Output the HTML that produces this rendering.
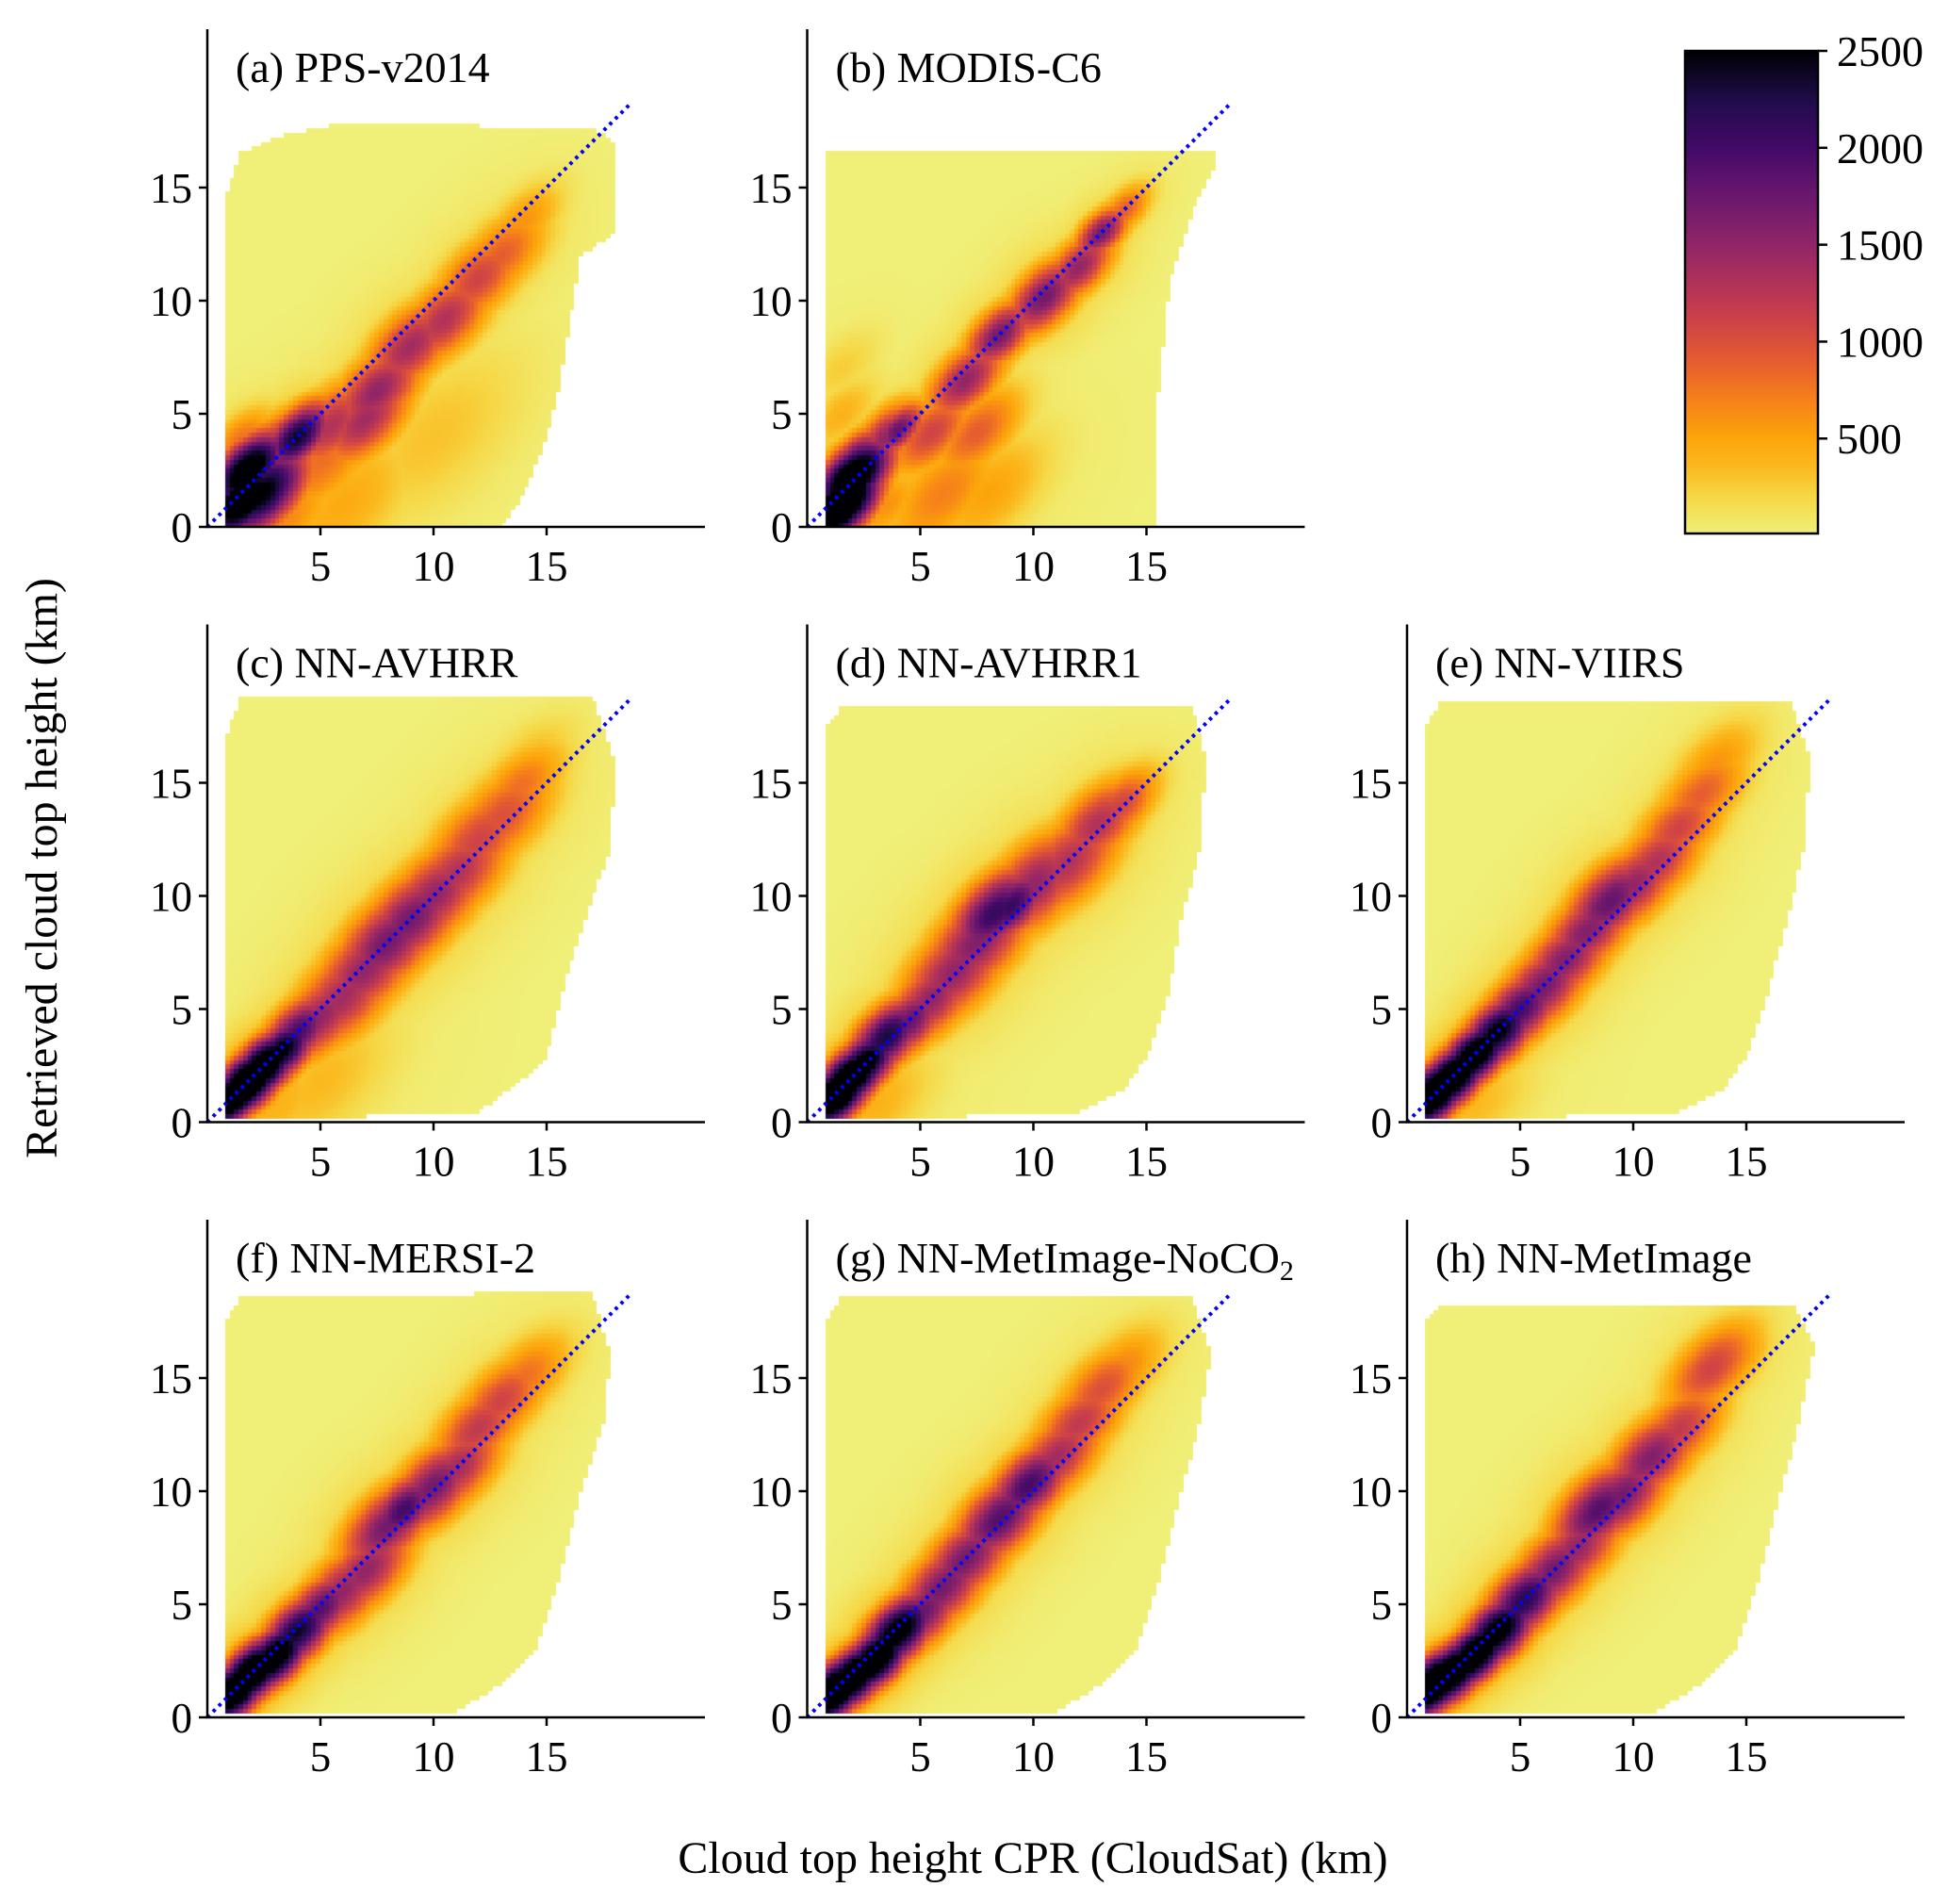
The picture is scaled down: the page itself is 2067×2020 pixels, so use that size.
<!DOCTYPE html>
<html><head><meta charset="utf-8">
<style>
html,body{margin:0;padding:0;background:#fff;}
#root{position:relative;width:2067px;height:2020px;overflow:hidden;font-family:"Liberation Serif",serif;}
canvas{position:absolute;}
svg{position:absolute;left:0;top:0;}
</style></head>
<body>
<div id="root">
<svg id="svg" width="2067" height="2020"></svg>
</div>
<script>
// ---- data (km) ----
const panelTitles = ["(a) PPS-v2014","(b) MODIS-C6","(c) NN-AVHRR","(d) NN-AVHRR1","(e) NN-VIIRS","(f) NN-MERSI-2","(g) NN-MetImage-NoCO","(h) NN-MetImage"];
const xTicks = [5,10,15];
const yTicks = [0,5,10,15];
const cbTicks = [500,1000,1500,2000,2500];
const cbMin = 10, cbMax = 2500;
const diagEnd = 18.7;

// envelope outlines [x,y]
const envA = [[0.8,0],[0.8,14.5],[1.5,16.5],[3,17.2],[6,17.8],[10,17.8],[14,17.6],[17,17.7],[18,17],[18,13],[16.5,12],[16,9],[15.5,6],[15,4],[14,1.5],[13,0]];
const envB = [[0.8,0],[0.8,16.5],[18,16.6],[18,16],[17,14],[16,11],[15.5,6],[15.3,0]];
const envC = [[0.8,0.3],[0.8,17],[1.5,18.7],[17,18.8],[18,16],[17.8,12],[17,10],[16,7],[15,3],[14,2],[12,0.5],[2,0.1]];
const envD = [[0.8,0.3],[0.8,17.5],[1.5,18.3],[17,18.5],[17.6,16],[17.3,12],[16.5,9],[16,6],[15,3],[14,1.5],[12,0.5],[2,0.1]];
const envE = [[0.8,0.3],[0.8,17.5],[1.5,18.5],[17,18.6],[17.8,16],[17.5,12],[16.8,9],[16,6],[15,3],[14,1.5],[12,0.5],[2,0.1]];
const envF = [[0.8,0.3],[0.8,17.5],[1.5,18.5],[17,18.8],[17.8,16],[17.5,13],[16.5,10],[15.5,6],[14.5,3],[13,1.5],[11,0.3],[2,0.1]];
const envG = [[0.8,0.3],[0.8,17.5],[1.5,18.5],[17,18.6],[17.8,16],[17.3,13],[16.5,10],[15.5,6],[14.5,3],[13,1.5],[11,0.3],[2,0.1]];
const envH = [[0.8,0.3],[0.8,17.5],[1.5,18.2],[17,18.3],[18,16.5],[17.3,13],[16.5,10],[15.5,6],[14.5,3],[13,1.5],[11,0.3],[2,0.1]];

// density blobs [x, y, count, spread]
const blobsA = [[1.6,1.2,3200,0.5],[1.8,2.5,3000,0.5],[2.4,1.5,2600,0.6],[4,4,2400,0.45],[3,3.5,1500,0.5],[5.5,4.5,1300,0.6],[7,4.8,1400,0.6],[7.5,6,1500,0.6],[9,8,1400,0.6],[10.5,9.2,1300,0.6],[12,11,1100,0.6],[13,12,900,0.6],[14,13.5,600,0.5],[5,3,800,0.8],[6,1,450,1.0],[3.5,0.5,650,0.7],[10,4,300,1.2],[1.5,3.8,800,0.45]];
const blobsB = [[1.5,1,3500,0.5],[2,2.2,3200,0.5],[2.2,3,2000,0.4],[3.5,4,1500,0.45],[4,4.3,1800,0.35],[5.5,4.2,1100,0.55],[7.5,4.2,900,0.6],[6,1.5,700,0.8],[8,1.5,500,0.8],[3.5,1,600,0.5],[7,6.5,1500,0.5],[8.5,8.5,1700,0.45],[10.5,10.2,1700,0.5],[12,11.5,1500,0.45],[13,13,1700,0.35],[14,14,900,0.35],[1.5,5,400,0.5],[1.5,7,250,0.5]];
const blobsC = [[1.2,1.2,3500,0.4],[1.8,1.8,3500,0.45],[2.5,2.5,3200,0.45],[3.3,3.2,2600,0.45],[4,4,2000,0.5],[5,4.7,1500,0.6],[6,5.6,1400,0.7],[7,6.8,1500,0.7],[8,8,1700,0.7],[9,9,1700,0.7],[10,10,1500,0.7],[11,11,1300,0.7],[12,12.5,1100,0.7],[13,13.5,1000,0.7],[13.8,14.8,800,0.6],[14.2,15.8,400,0.6],[3,0.8,400,0.8],[5,1.8,350,1.0]];
const blobsD = [[1.3,1.3,3500,0.45],[1.9,2,3300,0.45],[2.5,2.6,2800,0.45],[3.5,3.8,2300,0.5],[4.5,4.5,1800,0.5],[5.5,5.5,1500,0.6],[6.5,6.7,1500,0.7],[7.5,8,1600,0.7],[8.3,9.3,2100,0.6],[9,9.6,2100,0.5],[10,10.5,1500,0.7],[11.5,11.5,1300,0.7],[12.8,13.2,1300,0.6],[13.8,14,1100,0.5],[3,0.8,400,0.8]];
const blobsE = [[1.2,1.3,3500,0.45],[2,2,3300,0.45],[3,3,3100,0.45],[4,4,2600,0.5],[5,5,2000,0.55],[6,6,1700,0.6],[7,7.2,1600,0.6],[8,8.5,1600,0.6],[9,9.8,1800,0.6],[10,10.5,1500,0.6],[11,11.5,1300,0.6],[12,13,1100,0.6],[13,14.5,900,0.6],[13.6,15.8,600,0.6],[3,0.8,350,0.8]];
const blobsF = [[1.2,1.2,3300,0.45],[2,2,3300,0.45],[3,2.7,3000,0.45],[4,3.8,2400,0.5],[5,4.8,1900,0.5],[6,5.6,1500,0.6],[7,6.5,1500,0.6],[8,8.5,1700,0.6],[8.7,9.2,2000,0.5],[10,10.2,1700,0.6],[11,11,1400,0.6],[12,12.8,1200,0.6],[13,14,1100,0.6],[14,15,800,0.6]];
const blobsG = [[1.2,1.2,3500,0.45],[2,1.8,3300,0.45],[3,2.6,3200,0.45],[4,3.8,2800,0.5],[5,4.6,1800,0.55],[6,5.8,1700,0.6],[7,7,1700,0.6],[8.5,8.8,1900,0.6],[9.8,10.3,2000,0.55],[11,11.5,1400,0.6],[12,13,1200,0.6],[13,14.5,1000,0.6],[13.8,15.3,700,0.6]];
const blobsH = [[1.2,1.5,3500,0.45],[2,2,3300,0.45],[3,2.8,3200,0.45],[4,3.8,2800,0.5],[5.2,5.2,2200,0.55],[6.5,6.5,1700,0.6],[7.5,7.5,1500,0.6],[8.5,9.2,1900,0.6],[9.5,9.8,1700,0.6],[10.8,11.5,1600,0.6],[12,12.7,1200,0.6],[13.5,15.5,1100,0.6],[14.2,15.7,800,0.5]];

const envs = [envA,envB,envC,envD,envE,envF,envG,envH];
const blobs = [blobsA,blobsB,blobsC,blobsD,blobsE,blobsF,blobsG,blobsH];

// ---- layout ----
const colX = [220, 856.5, 1493];
const rowY = [559, 1190.5, 1822];
const slots = [[0,0],[1,0],[0,1],[1,1],[2,1],[0,2],[1,2],[2,2]];
const PX = 24, XMAX = 22, YMAX = 22;

const cmapStops = [[0,[240,239,120]],[200,[246,215,69]],[350,[251,185,31]],[500,[252,165,10]],[700,[246,128,26]],[900,[229,92,48]],[1100,[205,67,71]],[1300,[177,50,90]],[1500,[144,37,104]],[1750,[106,23,110]],[2000,[66,10,104]],[2250,[31,12,72]],[2500,[0,0,4]]];
function cmap(v){
  if(v<=0) return cmapStops[0][1];
  for(let i=1;i<cmapStops.length;i++){
    if(v<=cmapStops[i][0]){const a=cmapStops[i-1],b=cmapStops[i];const t=(v-a[0])/(b[0]-a[0]);
      return a[1].map((c,k)=>Math.round(c+(b[1][k]-c)*t));}
  }
  return cmapStops[cmapStops.length-1][1];
}
function inPoly(x,y,p){let c=false;for(let i=0,j=p.length-1;i<p.length;j=i++){const xi=p[i][0],yi=p[i][1],xj=p[j][0],yj=p[j][1];
  if(((yi>y)!=(yj>y))&&(x<(xj-xi)*(y-yi)/(yj-yi)+xi))c=!c;}return c;}

const NS="http://www.w3.org/2000/svg";
const svg=document.getElementById('svg');
const root=document.getElementById('root');
function el(tag,attrs,parent){const e=document.createElementNS(NS,tag);for(const k in attrs)e.setAttribute(k,attrs[k]);(parent||svg).appendChild(e);return e;}

panelTitles.forEach((title,p)=>{
  const x0=colX[slots[p][0]], y0=rowY[slots[p][1]];
  const sx=v=>x0+v*PX, sy=v=>y0-v*PX;
  const cv=document.createElement('canvas');
  cv.width=XMAX*PX; cv.height=YMAX*PX;
  cv.style.left=x0+'px'; cv.style.top=(y0-YMAX*PX)+'px';
  
  
  root.insertBefore(cv,svg);
  const ctx=cv.getContext('2d');
  const cell=0.2, env=envs[p], bl=blobs[p];
  for(let gx=0;gx<XMAX;gx+=cell){for(let gy=0;gy<YMAX;gy+=cell){
    const cx=gx+cell/2, cy=gy+cell/2;
    if(!inPoly(cx,cy,env)) continue;
    let F=0;
    for(const b of bl){const dx=cx-b[0],dy=cy-b[1];const u=(dx+dy)/Math.SQRT2,v=(dy-dx)/Math.SQRT2;
      const sc=b[3]*1.6, sa=b[3]*3.0;
      const f=b[2]*Math.exp(-0.5*(u*u/(sa*sa)+v*v/(sc*sc)));if(f>F)F=f;
      const hc=b[3]*2.8, ha=b[3]*4.5;
      const h=0.2*b[2]*Math.exp(-0.5*(u*u/(ha*ha)+v*v/(hc*hc)));if(h>F)F=h;}
    const c=cmap(F);
    ctx.fillStyle='rgb('+c[0]+','+c[1]+','+c[2]+')';
    ctx.fillRect(Math.floor(gx*PX),Math.floor((YMAX-gy-cell)*PX),Math.ceil(cell*PX)+1,Math.ceil(cell*PX)+1);
  }}
  const g=el('g',{});
  
  
  const d=el('line',{x1:sx(0),y1:sy(0),x2:sx(diagEnd),y2:sy(diagEnd),stroke:'#0000ff','stroke-width':4,'stroke-dasharray':'3.5 5'},g);
  
  
  const ys=el('line',{x1:x0,y1:y0,x2:x0,y2:sy(YMAX),stroke:'#000','stroke-width':2.5},g);
  
  
  const xs=el('line',{x1:x0-1,y1:y0,x2:sx(XMAX),y2:y0,stroke:'#000','stroke-width':2.5},g);
  
  
  yTicks.forEach(t=>{
    el('line',{x1:x0-9,y1:sy(t),x2:x0,y2:sy(t),stroke:'#000','stroke-width':2.5},g);
    const tx=el('text',{x:x0-16,y:sy(t)+16,'text-anchor':'end','font-size':45,fill:'#000'},g);
    tx.textContent=t;
    
    
  });
  xTicks.forEach(t=>{
    el('line',{x1:sx(t),y1:y0,x2:sx(t),y2:y0+9,stroke:'#000','stroke-width':2.5},g);
    const tx=el('text',{x:sx(t),y:y0+57,'text-anchor':'middle','font-size':45,fill:'#000'},g);
    tx.textContent=t;
    
    
  });
  const tt=el('text',{x:x0+30,y:sy(YMAX)+56,'font-size':46,fill:'#000'},g);
  tt.textContent=title;
  if(p===6){const sub=el('tspan',{'font-size':30,dy:8},tt);sub.textContent='2';}
  
  
});

// colorbar
const cbX=1788, cbW=141, cbTop=54, cbBot=566;
const cbY=v=>cbBot-(v-cbMin)/(cbMax-cbMin)*(cbBot-cbTop);
const defs=el('defs',{});
const grad=el('linearGradient',{id:'cbg',x1:0,y1:1,x2:0,y2:0},defs);
cmapStops.forEach(s=>{const t=(Math.max(s[0],cbMin)-cbMin)/(cbMax-cbMin);el('stop',{offset:t,'stop-color':'rgb('+s[1].join(',')+')'},grad);});
const cbg=el('g',{});


el('rect',{x:cbX,y:cbTop,width:cbW,height:cbBot-cbTop,fill:'url(#cbg)',stroke:'#000','stroke-width':2.5},cbg);
cbTicks.forEach(v=>{
  el('line',{x1:cbX+cbW,y1:cbY(v),x2:cbX+cbW+10,y2:cbY(v),stroke:'#000','stroke-width':2.5},cbg);
  const t=el('text',{x:cbX+cbW+20,y:cbY(v)+16,'font-size':46,fill:'#000'},cbg);
  t.textContent=v;
  
  
});

// axis titles
const xl=el('text',{x:1096,y:1987,'text-anchor':'middle','font-size':48,fill:'#000'});
xl.textContent='Cloud top height CPR (CloudSat) (km)';


const yl=el('text',{x:0,y:0,'text-anchor':'middle','font-size':48,fill:'#000',transform:'translate(60,921) rotate(-90)'});
yl.textContent='Retrieved cloud top height (km)';


</script>
</body></html>
